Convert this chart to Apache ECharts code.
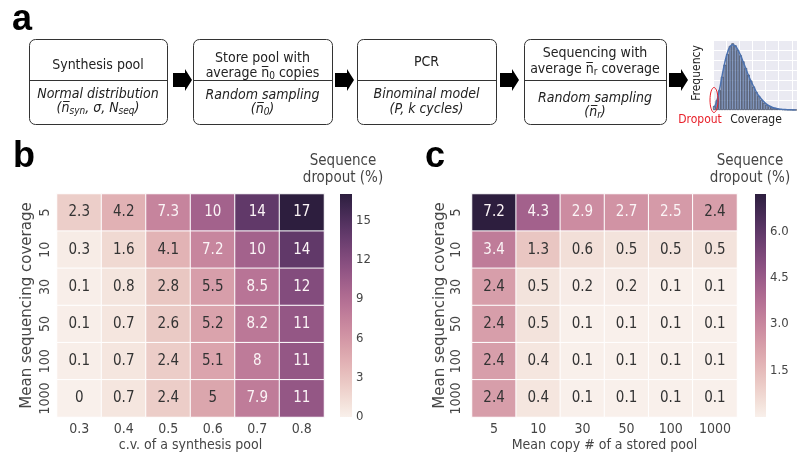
<!DOCTYPE html>
<html><head><meta charset="utf-8">
<script src="https://cdn.jsdelivr.net/npm/echarts@6/dist/echarts.min.js"></script>
<style>html,body{margin:0;padding:0;background:#fff}#c{width:797px;height:455px}</style>
</head><body><div id="c"></div>
<script>
// ---------------- DATA ----------------
// Panel b: rows = mean sequencing coverage, cols = c.v. of synthesis pool
const bCoverage = ['5', '10', '30', '50', '100', '1000'];
const bCV = ['0.3', '0.4', '0.5', '0.6', '0.7', '0.8'];
const bCov5    = [2.3, 4.2, 7.3, 10, 14, 17];
const bCov10   = [0.3, 1.6, 4.1, 7.2, 10, 14];
const bCov30   = [0.1, 0.8, 2.8, 5.5, 8.5, 12];
const bCov50   = [0.1, 0.7, 2.6, 5.2, 8.2, 11];
const bCov100  = [0.1, 0.7, 2.4, 5.1, 8, 11];
const bCov1000 = [0, 0.7, 2.4, 5, 7.9, 11];
const bTickInterval = 3;

// Panel c: rows = mean sequencing coverage, cols = mean copy # of stored pool
const cCoverage = ['5', '10', '30', '50', '100', '1000'];
const cCopies = ['5', '10', '30', '50', '100', '1000'];
const cCov5    = [7.2, 4.3, 2.9, 2.7, 2.5, 2.4];
const cCov10   = [3.4, 1.3, 0.6, 0.5, 0.5, 0.5];
const cCov30   = [2.4, 0.5, 0.2, 0.2, 0.1, 0.1];
const cCov50   = [2.4, 0.5, 0.1, 0.1, 0.1, 0.1];
const cCov100  = [2.4, 0.4, 0.1, 0.1, 0.1, 0.1];
const cCov1000 = [2.4, 0.4, 0.1, 0.1, 0.1, 0.1];
const cTickInterval = 1.5;

// Panel a inset histogram (relative frequency per coverage bin) and fitted curve
const histBins = ['0','1','2','3','4','5','6','7','8','9','10','11','12','13','14','15','16','17','18','19','20','21','22','23','24','25','26','27','28','29','30','31'];
const histFreq = [6, 15, 30, 50, 68, 84, 96, 100, 97, 90, 82, 73, 63, 53, 44, 35, 27, 21, 15, 11, 8, 5.5, 4, 2.8, 2, 1.4, 1, 0.7, 0.5, 0.3, 0.2, 0.1];
const histFit  = [4, 14, 31, 52, 71, 86, 95, 98, 96, 90, 82, 72, 62, 52, 43, 35, 27, 21, 16, 12, 8.5, 6, 4.2, 2.9, 2, 1.3, 0.9, 0.6, 0.4, 0.25, 0.15, 0.1];

// ---------------- STYLE HELPERS ----------------
const FONT = '"DejaVu Sans Condensed", "DejaVu Sans", sans-serif';
const BOLD = '"Liberation Sans", Arial, sans-serif';
const TXT = '#454545';

// seaborn cubehelix palette (start=0, rot=0.4, hue=0.8, light=0.95, dark=0.15)
function cube(f) {
  const t = 0.95 + (0.15 - 0.95) * f;
  const a = 0.8 * t * (1 - t) / 2;
  const phi = 2 * Math.PI * (0.4 * t);
  const c = Math.cos(phi), s = Math.sin(phi);
  const cl = v => Math.max(0, Math.min(1, v));
  return [cl(t + a * (-0.14861 * c + 1.78277 * s)),
          cl(t + a * (-0.29227 * c - 0.90649 * s)),
          cl(t + a * (1.97294 * c))];
}
function hex(rgb) { return '#' + rgb.map(v => Math.round(v * 255).toString(16).padStart(2, '0')).join(''); }
function lum(rgb) {
  const l = rgb.map(c => c <= 0.03928 ? c / 12.92 : Math.pow((c + 0.055) / 1.055, 2.4));
  return 0.2126 * l[0] + 0.7152 * l[1] + 0.0722 * l[2];
}
const palette = [];
for (let i = 0; i <= 64; i++) palette.push(hex(cube(i / 64)));
const gradStops = [];
for (let i = 0; i <= 20; i++) gradStops.push({ offset: i / 20, color: hex(cube(1 - i / 20)) });

function buildHeat(rows, vmin, vmax) {
  const out = [];
  rows.forEach((row, i) => row.forEach((v, j) => {
    const f = (v - vmin) / (vmax - vmin);
    out.push({ value: [j, i, v], label: { color: lum(cube(f)) > 0.408 ? '#333333' : '#fbf4f6' } });
  }));
  return out;
}
const bRows = [bCov5, bCov10, bCov30, bCov50, bCov100, bCov1000];
const cRows = [cCov5, cCov10, cCov30, cCov50, cCov100, cCov1000];
const bMin = Math.min(...bRows.flat()), bMax = Math.max(...bRows.flat());
const cMin = Math.min(...cRows.flat()), cMax = Math.max(...cRows.flat());

// ---------------- CHART ----------------
const chart = echarts.init(document.getElementById('c'), null, { renderer: 'canvas' });

const tickLabel = { color: TXT, fontSize: 14, fontFamily: FONT };
const nameStyle = { color: TXT, fontSize: 14, fontFamily: FONT };

function heatX(grid, data, name) {
  return { type: 'category', gridIndex: grid, data: data, axisLine: { show: false }, axisTick: { show: false },
    axisLabel: Object.assign({ margin: 5, interval: 0 }, tickLabel), splitLine: { show: false },
    name: name, nameLocation: 'middle', nameGap: 21, nameTextStyle: nameStyle };
}
function heatY(grid, data, margin, gap) {
  return { type: 'category', gridIndex: grid, data: data, inverse: true, axisLine: { show: false }, axisTick: { show: false },
    axisLabel: Object.assign({ margin: margin, rotate: 90, interval: 0 }, tickLabel), splitLine: { show: false },
    name: 'Mean sequencing coverage', nameLocation: 'middle', nameGap: gap,
    nameTextStyle: Object.assign({}, nameStyle, { fontSize: 15, fontFamily: '"DejaVu Sans", sans-serif' }) };
}
function cbY(grid, max, interval, fmt, hideMin) {
  return { type: 'value', gridIndex: grid, min: 0, max: max, interval: interval, position: 'right',
    axisLine: { show: false }, axisTick: { show: false }, splitLine: { show: false },
    axisLabel: { color: TXT, fontSize: 13, fontFamily: FONT, margin: 4, showMaxLabel: false, showMinLabel: !hideMin, formatter: fmt } };
}

function txt(x, y, text, o) {
  return Object.assign({ type: 'text', x: x, y: y, z: 100,
    style: Object.assign({ text: text, fill: '#222', fontSize: 14, fontFamily: FONT, align: 'center', verticalAlign: 'middle' }, o || {}) });
}
function richSub(italic) {
  const fs = italic ? 'italic' : 'normal';
  return { s: { fontSize: 10, fontFamily: FONT, fontStyle: fs, verticalAlign: 'bottom', padding: [6, 0, 0, 0] } };
}
const N = 'n\u0305';
const boxes = [
  { x: 29, w: 138, top: [['Synthesis pool', 65]],
    bot: [['Normal distribution', 94.5], ['(' + N + '{s|syn}, \u03c3, N{s|seq})', 108]] },
  { x: 193, w: 139, top: [['Store pool with', 58], ['average ' + N + '{s|0} copies', 73]],
    bot: [['Random sampling', 95], ['(' + N + '{s|0})', 109]] },
  { x: 357, w: 139, top: [['PCR', 62]],
    bot: [['Binominal model', 94.5], ['(P, k cycles)', 109.5]] },
  { x: 524, w: 142, top: [['Sequencing with', 53], ['average ' + N + '{s|r} coverage', 69]],
    bot: [['Random sampling', 98.5], ['(' + N + '{s|r})', 112]] }
];
const graphics = [];
boxes.forEach(b => {
  graphics.push({ type: 'rect', z: 90, shape: { x: b.x + 0.5, y: 39.5, width: b.w, height: 85, r: 6 },
    style: { fill: '#fff', stroke: '#333', lineWidth: 1 } });
  graphics.push({ type: 'line', z: 91, shape: { x1: b.x + 0.5, y1: 80.5, x2: b.x + b.w + 0.5, y2: 80.5 },
    style: { stroke: '#333', lineWidth: 1 } });
  const cx = b.x + b.w / 2;
  b.top.forEach(t => graphics.push(txt(cx, t[1], t[0], { rich: richSub(false) })));
  b.bot.forEach(t => graphics.push(txt(cx, t[1], t[0], { fontStyle: 'italic', rich: richSub(true) })));
});
[173, 335, 500, 669].forEach(x => {
  graphics.push({ type: 'polygon', z: 90, shape: { points: [[x, 73], [x + 12, 73], [x + 12, 69], [x + 19, 80], [x + 12, 91], [x + 12, 87], [x, 87]] },
    style: { fill: '#000' } });
});
graphics.push({ type: 'ellipse', z: 100, shape: { cx: 714, cy: 100, rx: 4, ry: 12.5 }, style: { fill: 'none', stroke: '#e8202a', lineWidth: 1 } });
const freqLabel = txt(697, 73, 'Frequency', { fontSize: 12 });
freqLabel.rotation = Math.PI / 2;
graphics.push(freqLabel);
graphics.push(txt(700, 120, 'Dropout', { fontSize: 12, fill: '#e8202a' }));
graphics.push(txt(756, 120, 'Coverage', { fontSize: 12 }));
// panel letters
graphics.push(txt(22, 20.5, 'a', { fontSize: 36, fontWeight: 'bold', fontFamily: BOLD, fill: '#000' }));
graphics.push(txt(24, 157.5, 'b', { fontSize: 36, fontWeight: 'bold', fontFamily: BOLD, fill: '#000' }));
graphics.push(txt(435, 157.5, 'c', { fontSize: 36, fontWeight: 'bold', fontFamily: BOLD, fill: '#000' }));
// colorbar titles
[343, 750].forEach(x => {
  graphics.push(txt(x, 161, 'Sequence', { fontSize: 15, fill: TXT }));
  graphics.push(txt(x, 178, 'dropout (%)', { fontSize: 15, fill: TXT }));
});

const option = {
  backgroundColor: '#fff',
  animation: false,
  grid: [
    { left: 57, top: 194, width: 267, height: 223 },
    { left: 472, top: 194, width: 265, height: 223 },
    { left: 340, top: 194, width: 12, height: 223 },
    { left: 755, top: 194, width: 11, height: 223 },
    { left: 713, top: 40, width: 84, height: 70, show: true, backgroundColor: '#eaeaf2', borderWidth: 0 }
  ],
  xAxis: [
    heatX(0, bCV, 'c.v. of a synthesis pool'),
    heatX(1, cCopies, 'Mean copy # of a stored pool'),
    { type: 'category', gridIndex: 2, data: ['b'], show: false },
    { type: 'category', gridIndex: 3, data: ['c'], show: false },
    { type: 'category', gridIndex: 4, data: histBins, axisLine: { show: false }, axisTick: { show: false }, axisLabel: { show: false },
      splitLine: { show: true, interval: 4, lineStyle: { color: '#fff', width: 1 } } }
  ],
  yAxis: [
    heatY(0, bCoverage, 5, 22),
    heatY(1, cCoverage, 9, 24),
    cbY(2, bMax, bTickInterval, v => String(v), false),
    cbY(3, cMax, cTickInterval, v => v.toFixed(1), true),
    { type: 'value', gridIndex: 4, min: 0, max: 105, interval: 15, axisLine: { show: false }, axisTick: { show: false }, axisLabel: { show: false },
      splitLine: { show: true, lineStyle: { color: '#fff', width: 1 } } }
  ],
  visualMap: [
    { type: 'continuous', show: false, seriesIndex: 0, min: bMin, max: bMax, inRange: { color: palette } },
    { type: 'continuous', show: false, seriesIndex: 1, min: cMin, max: cMax, inRange: { color: palette } }
  ],
  series: [
    { type: 'heatmap', xAxisIndex: 0, yAxisIndex: 0, data: buildHeat(bRows, bMin, bMax),
      itemStyle: { borderColor: '#fff', borderWidth: 1 },
      label: { show: true, fontSize: 15, fontFamily: FONT, formatter: p => String(p.value[2]) }, emphasis: { disabled: true } },
    { type: 'heatmap', xAxisIndex: 1, yAxisIndex: 1, data: buildHeat(cRows, cMin, cMax),
      itemStyle: { borderColor: '#fff', borderWidth: 1 },
      label: { show: true, fontSize: 15, fontFamily: FONT, formatter: p => String(p.value[2]) }, emphasis: { disabled: true } },
    { type: 'bar', xAxisIndex: 2, yAxisIndex: 2, data: [bMax], barWidth: '100%', silent: true,
      itemStyle: { color: new echarts.graphic.LinearGradient(0, 0, 0, 1, gradStops) } },
    { type: 'bar', xAxisIndex: 3, yAxisIndex: 3, data: [cMax], barWidth: '100%', silent: true,
      itemStyle: { color: new echarts.graphic.LinearGradient(0, 0, 0, 1, gradStops) } },
    { type: 'bar', xAxisIndex: 4, yAxisIndex: 4, data: histFreq, barCategoryGap: '0%', silent: true,
      itemStyle: { color: 'rgba(76,114,176,0.6)', borderColor: '#2b344a', borderWidth: 0.6 } },
    { type: 'line', xAxisIndex: 4, yAxisIndex: 4, data: histFit, smooth: true, symbol: 'none', silent: true,
      lineStyle: { color: '#4c72b0', width: 1.5 } }
  ],
  graphic: graphics
};
chart.setOption(option);
</script>
</body></html>
